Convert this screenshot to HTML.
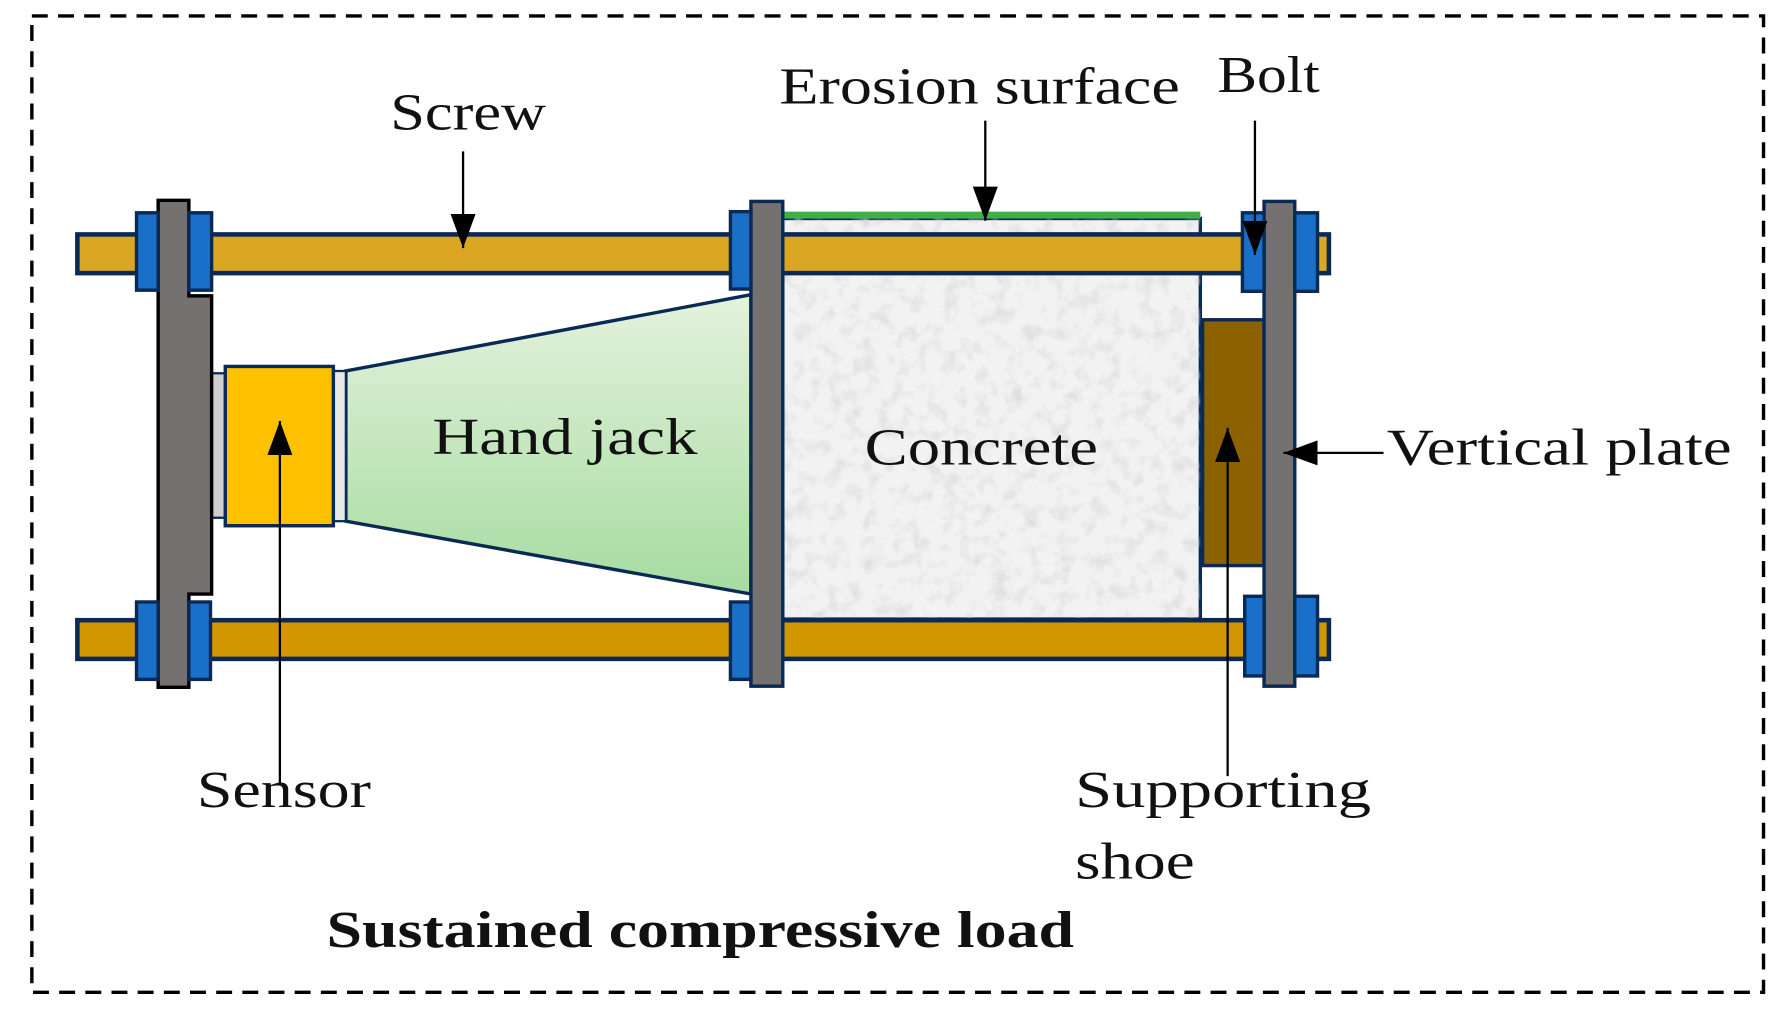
<!DOCTYPE html>
<html><head><meta charset="utf-8"><style>html,body{margin:0;padding:0;background:#fff}svg{display:block}</style></head>
<body>
<svg width="1784" height="1031" viewBox="0 0 1568 906" preserveAspectRatio="none" xmlns="http://www.w3.org/2000/svg">
<defs>
<linearGradient id="jg" x1="0" y1="0" x2="0" y2="1"><stop offset="0" stop-color="#e4f2dd"/><stop offset="1" stop-color="#a6dca0"/></linearGradient>
<filter id="tex"><feTurbulence type="fractalNoise" baseFrequency="0.07" numOctaves="3" seed="4"/><feColorMatrix type="matrix" values="0 0 0 0 0.65  0 0 0 0 0.65  0 0 0 0 0.65  0 0 0 -1.6 0.85"/><feComposite in2="SourceGraphic" operator="in"/></filter>
<marker id="ah" viewBox="0 0 30 22" refX="30" refY="11" markerWidth="30" markerHeight="22" markerUnits="userSpaceOnUse" orient="auto"><path d="M0,0L30,11L0,22z" fill="#000"/></marker>
</defs>
<rect x="28" y="14" width="1522" height="858" fill="none" stroke="#000" stroke-width="3" stroke-dasharray="14,9"/>
<rect x="688" y="192" width="367" height="352" fill="#f2f2f2" stroke="#0a2a55" stroke-width="3"/>
<rect x="688" y="192" width="367" height="352" fill="#f2f2f2" filter="url(#tex)"/>
<line x1="688" y1="189" x2="1055" y2="189" stroke="#3fb045" stroke-width="6"/>
<rect x="68" y="206" width="1100" height="34" fill="#dba722" stroke="#0a2a55" stroke-width="4"/>
<rect x="68" y="545" width="1100" height="34" fill="#d29600" stroke="#0a2a55" stroke-width="4"/>
<rect x="1057" y="281" width="54" height="216" fill="#8c6200" stroke="#0a2a55" stroke-width="3"/>
<polygon points="304,326 660,259 660,522 304,458" fill="url(#jg)" stroke="#0a2a55" stroke-width="3"/>
<rect x="186" y="328" width="12" height="127" fill="#cfcfcf" stroke="#0a2a55" stroke-width="2"/>
<rect x="293" y="326" width="11" height="132" fill="#e8e8e8" stroke="#0a2a55" stroke-width="2"/>
<rect x="198" y="322" width="95" height="140" fill="#ffc000" stroke="#0a2a55" stroke-width="3"/>
<path d="M139,176 H166 V260 H186 V522 H166 V604 H139 Z" fill="#767171" stroke="#000" stroke-width="3"/>
<rect x="660" y="177" width="28" height="426" fill="#767171" stroke="#0a2a55" stroke-width="3"/>
<rect x="1111" y="177" width="27" height="426" fill="#767171" stroke="#0a2a55" stroke-width="3"/>
<g fill="#1a70c8" stroke="#0a2a55" stroke-width="3">
<rect x="120" y="187" width="19" height="68"/><rect x="166" y="187" width="20" height="68"/>
<rect x="120" y="529" width="19" height="68"/><rect x="166" y="529" width="19" height="68"/>
<rect x="642" y="186" width="18" height="68"/>
<rect x="642" y="529" width="18" height="68"/>
<rect x="1092" y="187" width="19" height="69"/><rect x="1138" y="187" width="20" height="69"/>
<rect x="1094" y="524" width="17" height="70"/><rect x="1138" y="524" width="20" height="70"/>
</g>
<g stroke="#000" stroke-width="2" marker-end="url(#ah)">
<line x1="407" y1="133" x2="407" y2="218"/>
<line x1="866" y1="106" x2="866" y2="194"/>
<line x1="1103" y1="106" x2="1103" y2="224"/>
<line x1="246" y1="688" x2="246" y2="370"/>
<line x1="1079" y1="682" x2="1079" y2="376"/>
<line x1="1216" y1="398" x2="1128" y2="398"/>
</g>
<g font-family="'Liberation Serif',serif" font-size="46" fill="#111">
<text x="343" y="114" textLength="137" lengthAdjust="spacingAndGlyphs">Screw</text>
<text x="685" y="91" textLength="352" lengthAdjust="spacingAndGlyphs">Erosion surface</text>
<text x="1070" y="81" textLength="90" lengthAdjust="spacingAndGlyphs">Bolt</text>
<text x="380" y="399" textLength="233" lengthAdjust="spacingAndGlyphs">Hand jack</text>
<text x="760" y="408" textLength="205" lengthAdjust="spacingAndGlyphs">Concrete</text>
<text x="1219" y="408" textLength="303" lengthAdjust="spacingAndGlyphs">Vertical plate</text>
<text x="173" y="709" textLength="153" lengthAdjust="spacingAndGlyphs">Sensor</text>
<text x="945" y="709" textLength="260" lengthAdjust="spacingAndGlyphs">Supporting</text>
<text x="945" y="772" textLength="105" lengthAdjust="spacingAndGlyphs">shoe</text>
<text x="287" y="832" font-weight="bold" textLength="657" lengthAdjust="spacingAndGlyphs">Sustained compressive load</text>
</g>
</svg>
</body></html>
